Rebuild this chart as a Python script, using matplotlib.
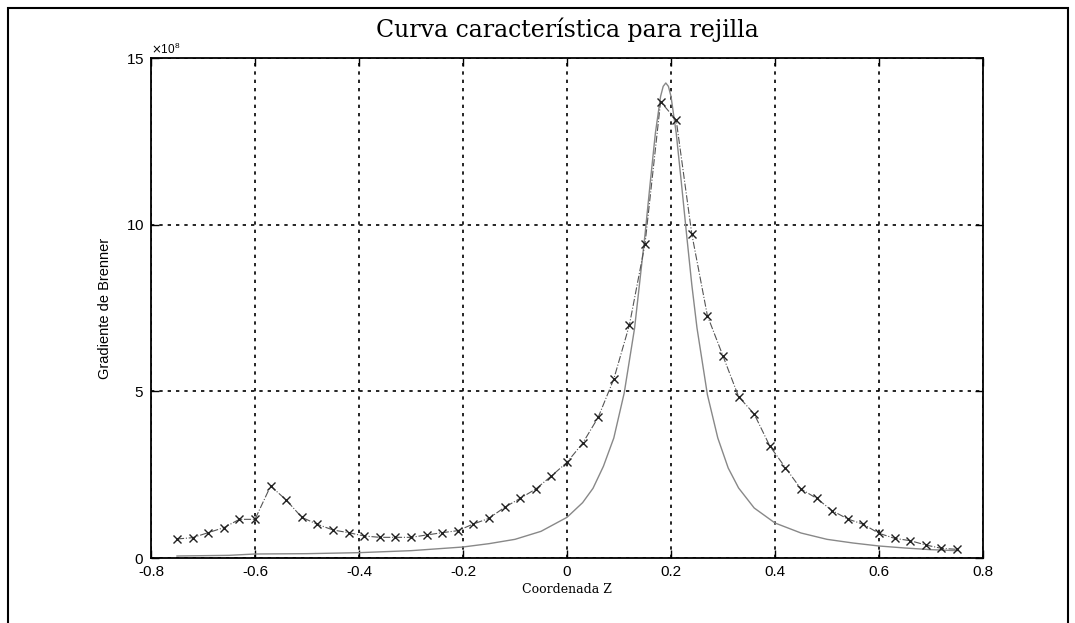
import numpy as np
import matplotlib.pyplot as plt
from matplotlib.ticker import ScalarFormatter
from matplotlib.patches import Rectangle

plt.rcParams['font.family'] = ['Liberation Sans', 'DejaVu Sans']

# measured points (x markers), values in units of 1e8
z_meas = [-0.75, -0.72, -0.69, -0.66, -0.63, -0.60, -0.57, -0.54, -0.51, -0.48,
          -0.45, -0.42, -0.39, -0.36, -0.33, -0.30, -0.27, -0.24, -0.21, -0.18,
          -0.15, -0.12, -0.09, -0.06, -0.03, 0.00, 0.03, 0.06, 0.09, 0.12,
          0.15, 0.18, 0.21, 0.24, 0.27, 0.30, 0.33, 0.36, 0.39, 0.42,
          0.45, 0.48, 0.51, 0.54, 0.57, 0.60, 0.63, 0.66, 0.69, 0.72, 0.75]
g_meas = [0.57, 0.61, 0.76, 0.91, 1.16, 1.16, 2.16, 1.74, 1.22, 1.01,
          0.84, 0.76, 0.66, 0.62, 0.62, 0.62, 0.69, 0.76, 0.82, 1.02,
          1.19, 1.52, 1.79, 2.07, 2.46, 2.87, 3.44, 4.22, 5.37, 6.99,
          9.42, 13.69, 13.14, 9.72, 7.27, 6.06, 4.84, 4.32, 3.36, 2.71,
          2.07, 1.79, 1.42, 1.17, 1.01, 0.74, 0.59, 0.52, 0.39, 0.29, 0.26]

# model curve (solid line), values in units of 1e8
z_model = [-0.75, -0.70, -0.65, -0.60, -0.50, -0.40, -0.30, -0.20, -0.15, -0.10,
           -0.05, 0.00, 0.03, 0.05, 0.07, 0.09, 0.11, 0.13, 0.15, 0.16,
           0.17, 0.18, 0.185, 0.19, 0.195, 0.20, 0.21, 0.22, 0.23, 0.24, 0.25, 0.27,
           0.29, 0.31, 0.33, 0.36, 0.40, 0.45, 0.50, 0.55, 0.60, 0.65,
           0.70, 0.75]
g_model = [0.06, 0.07, 0.08, 0.12, 0.13, 0.16, 0.22, 0.33, 0.43, 0.56,
           0.80, 1.22, 1.66, 2.09, 2.75, 3.6, 4.95, 6.9, 9.7, 11.25,
           12.75, 13.85, 14.15, 14.25, 14.15, 13.85, 12.75, 11.25, 9.7, 8.2, 6.9, 4.9,
           3.6, 2.7, 2.1, 1.5, 1.05, 0.75, 0.56, 0.45, 0.36, 0.30,
           0.25, 0.22]

scale = 1e8

fig = plt.figure(figsize=(10.75, 6.23), dpi=100)
ax = fig.add_axes([151 / 1075, 65 / 623, 832 / 1075, 500 / 623])

ax.plot(z_model, np.array(g_model) * scale, color='#888888', linewidth=1.0, zorder=3)
ax.plot(z_meas, np.array(g_meas) * scale, color='#555555', linewidth=0.8,
        linestyle='-.', marker='x', markersize=5.5, markeredgewidth=1.0,
        markeredgecolor='#222222', zorder=4)

ax.set_xlim(-0.8, 0.8)
ax.set_ylim(0, 15e8)
ax.set_xticks(np.arange(-0.8, 0.81, 0.2))
ax.set_yticks([0, 5e8, 10e8, 15e8])
ax.set_xticklabels(['-0.8', '-0.6', '-0.4', '-0.2', '0', '0.2', '0.4', '0.6', '0.8'])

fmt = ScalarFormatter(useMathText=True)
fmt.set_powerlimits((8, 8))
ax.yaxis.set_major_formatter(fmt)
ax.yaxis.get_offset_text().set_fontsize(8.5)

ax.grid(True, color='black', linestyle=(0, (2, 3)), linewidth=1.2)
ax.tick_params(direction='in', length=6, width=1, labelsize=11,
               top=True, right=True, pad=5)
for sp in ax.spines.values():
    sp.set_linewidth(1.3)

ax.set_xlabel('Coordenada Z', family='DejaVu Serif', fontsize=9, labelpad=3)
ax.set_ylabel('Gradiente de Brenner', fontsize=10.5, labelpad=10)

fig.text(567 / 1075, 1 - 30 / 623, 'Curva característica para rejilla',
         family='DejaVu Serif', fontsize=17, ha='center', va='center')

# outer frame of the scanned figure
fig.patches.append(Rectangle((8 / 1075, -0.02), 1060 / 1075, 1.02 - 8 / 623,
                             transform=fig.transFigure, fill=False,
                             edgecolor='black', linewidth=1.5))

fig.savefig('out.png', dpi=100)
